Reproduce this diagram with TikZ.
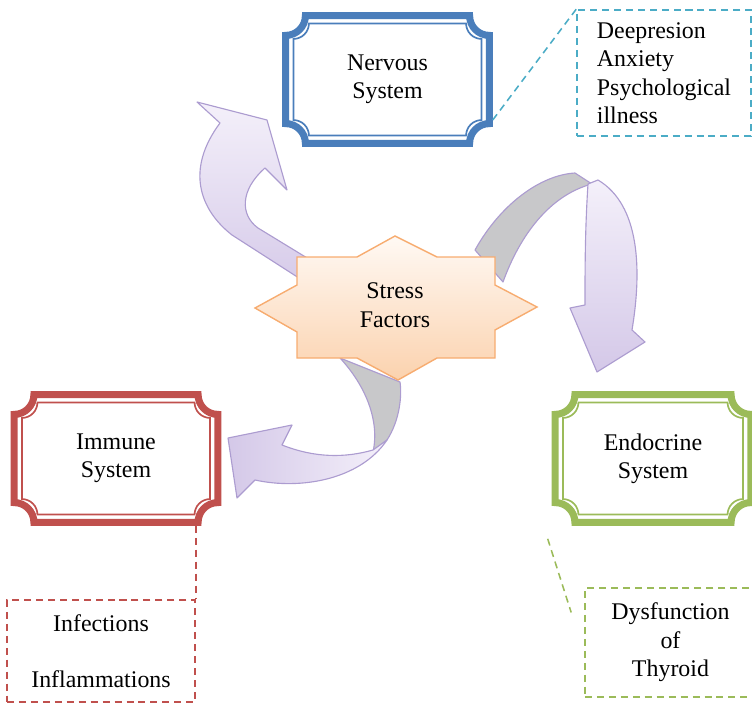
\documentclass[tikz,border=0pt]{standalone}
\usepackage{fontspec}
\setmainfont{Liberation Serif}
\newfontfamily\diagfont{Liberation Serif}
\usetikzlibrary{calc,positioning}
\definecolor{NervousBlue}{RGB}{74,126,187}
\definecolor{ImmuneRed}{RGB}{192,80,77}
\definecolor{EndoGreen}{RGB}{155,187,89}
\definecolor{DashCyan}{RGB}{75,172,198}
\definecolor{ArrowLight}{RGB}{244,240,250}
\definecolor{ArrowDeep}{RGB}{212,200,232}
\definecolor{ArrowLine}{RGB}{172,156,208}
\definecolor{RibbonGray}{RGB}{200,200,202}
\definecolor{StarLight}{RGB}{255,249,244}
\definecolor{StarDeep}{RGB}{251,210,174}
\definecolor{StarLine}{RGB}{247,172,112}

\tikzset{
  plaquebox/.style={minimum width=5.25cm, minimum height=3.35cm, inner sep=0pt, align=center},
  notebox/.style={draw, dash pattern=on 5pt off 3.5pt, line width=1.1pt, inner sep=0pt, align=center},
  noteline/.style={dash pattern=on 5pt off 3.5pt, line width=1.1pt},
  ribbon/.style={draw=ArrowLine, line width=0.8pt, line join=round},
  backface/.style={draw=ArrowLine, line width=0.8pt, line join=round, fill=RibbonGray}
}

% double frame with notched corners round a node
\newcommand{\plaque}[2]{%
  \draw[#2, line width=5pt] let \p1=($(#1.south west)+(2.5pt,2.5pt)$), \p2=($(#1.north east)-(2.5pt,2.5pt)$) in
    (\x1,\y1+14pt) -- (\x1,\y2-14pt) arc[start angle=-90, end angle=0, radius=14pt]
    -- (\x2-14pt,\y2) arc[start angle=180, end angle=270, radius=14pt]
    -- (\x2,\y1+14pt) arc[start angle=90, end angle=180, radius=14pt]
    -- (\x1+14pt,\y1) arc[start angle=0, end angle=90, radius=14pt] -- cycle;
  \draw[#2, line width=1.2pt] let \p1=($(#1.south west)+(8pt,8pt)$), \p2=($(#1.north east)-(8pt,8pt)$) in
    (\x1,\y1+11pt) -- (\x1,\y2-11pt) arc[start angle=-90, end angle=0, radius=11pt]
    -- (\x2-11pt,\y2) arc[start angle=180, end angle=270, radius=11pt]
    -- (\x2,\y1+11pt) arc[start angle=90, end angle=180, radius=11pt]
    -- (\x1+11pt,\y1) arc[start angle=0, end angle=90, radius=11pt] -- cycle;
}

\begin{document}
\begin{tikzpicture}[x=0.025cm, y=-0.025cm, font=\diagfont\fontsize{17}{20.2}\selectfont]
    \useasboundingbox (0,0) rectangle (752,704);

    % Arrows round the star
    \draw[ribbon, top color=ArrowLight, bottom color=ArrowDeep] (330,298) -- (232,235) .. controls (200,210) and (185,170) .. (220,123) -- (197,102) -- (267,120) -- (287,190) -- (265,168) .. controls (240,190) and (240,215) .. (258,228) -- (335,275) -- cycle;
    \draw[backface] (475,250) .. controls (500,205) and (540,175) .. (575,173) -- (592,184) .. controls (550,195) and (520,235) .. (503,282) -- cycle;
    \draw[ribbon, top color=ArrowLight, bottom color=ArrowDeep] (588,184) .. controls (585,230) and (585,270) .. (585,305) -- (570,308) -- (597,372) -- (645,342) -- (632,330) .. controls (642,270) and (640,205) .. (598,180) -- cycle;
    \draw[backface] (340,358) .. controls (365,385) and (380,420) .. (373,452) -- (387,440) .. controls (400,420) and (402,395) .. (400,382) -- cycle;
    \draw[ribbon, left color=ArrowDeep, right color=ArrowLight] (373,450) .. controls (345,458) and (315,458) .. (282,445) -- (292,425) -- (228,438) -- (237,498) -- (255,480) .. controls (300,490) and (360,480) .. (387,440) -- cycle;

    % Stress factors star
    \draw[StarLine, line width=1pt, top color=StarLight, bottom color=StarDeep] (255,308) -- (297,285) -- (297,257) -- (357,257) -- (395,236) -- (437,257) -- (495,257) -- (495,285) -- (537,307) -- (495,330) -- (495,358) -- (437,358) -- (398,380) -- (357,358) -- (297,358) -- (297,332) -- cycle;
    \node[align=center] (stress) at (395,305) {Stress\\Factors};

    % Systems
    \node[plaquebox] (nervous) at (387.5,79.5) {Nervous\\System};
    \node[plaquebox] (immune) at (116,458.5) {Immune\\System};
    \node[plaquebox, minimum width=5.05cm] (endo) at (653,458.5) {Endocrine\\System};
    \plaque{nervous}{NervousBlue}
    \plaque{immune}{ImmuneRed}
    \plaque{endo}{EndoGreen}

    % Effects
    \node[notebox, draw=DashCyan, minimum width=4.35cm, minimum height=3.15cm, align=left] (deep) at (664,73) {Deepresion\\Anxiety\\Psychological\\illness};
    \node[notebox, draw=ImmuneRed, minimum width=4.7cm, minimum height=2.55cm] (infect) at (101,651) {Infections\\[20pt]Inflammations};
    \node[notebox, draw=EndoGreen, minimum width=4.275cm, minimum height=2.725cm] (dys) at (670.5,642.5) {Dysfunction\\of\\Thyroid};

    \draw[noteline, DashCyan] (nervous.-21) -- (deep.north west);
    \draw[noteline, ImmuneRed] (immune.south -| infect.north east) -- (infect.north east);
    \draw[noteline, EndoGreen] ($(endo.south west)+(-4,13)$) -- ($(dys.west)+(-13,-30)$);
\end{tikzpicture}
\end{document}
